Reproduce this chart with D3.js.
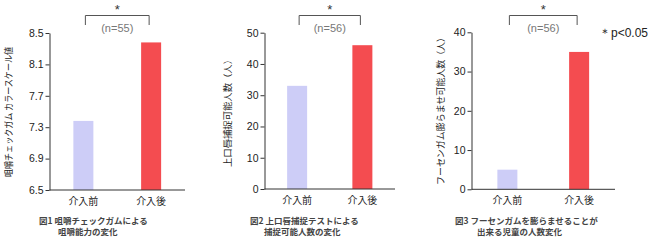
<!DOCTYPE html>
<html><head><meta charset="utf-8">
<script src="https://cdn.jsdelivr.net/npm/d3@7"></script>
<style>
html,body{margin:0;padding:0;background:#fff;}
svg{display:block;}
</style></head>
<body>
<svg id="c" width="650" height="241"></svg>
<script>
const categories = ["介入前", "介入後"];
const chewValues = [7.38, 8.38];
const lipValues = [33, 46];
const gumValues = [5, 35];
const chewTicks = [6.5, 6.9, 7.3, 7.7, 8.1, 8.5];
const lipTicks = [0, 10, 20, 30, 40, 50];
const gumTicks = [0, 10, 20, 30, 40];
const yTitles = ["咀嚼チェックガム カラースケール値", "上口唇捕捉可能人数（人）", "フーセンガム膨らませ可能人数（人）"];
const nLabels = ["(n=55)", "(n=56)", "(n=56)"];
const captions = [
  ["図1 咀嚼チェックガムによる", "咀嚼能力の変化"],
  ["図2 上口唇捕捉テストによる", "捕捉可能人数の変化"],
  ["図3 フーセンガムを膨らませることが", "出来る児童の人数変化"]
];
const barColors = ["#cdcdf7", "#f44c50"];

const panels = [
  {values: chewValues, ticks: chewTicks, domain: [6.5, 8.5], fmt: d3.format(".1f"),
   left: 49.5, right: 185, top: 33, bottom: 190, titleX: 8.5, titleY: 112, titleLen: 130,
   capX: [39, 58]},
  {values: lipValues, ticks: lipTicks, domain: [0, 50], fmt: d3.format("d"),
   left: 264.5, right: 395, top: 32.7, bottom: 189, titleX: 227, titleY: 111, titleLen: 112,
   capX: [250, 264]},
  {values: gumValues, ticks: gumTicks, domain: [0, 40], fmt: d3.format("d"),
   left: 471.5, right: 615, top: 32.3, bottom: 189.3, titleX: 440.5, titleY: 109, titleLen: 152,
   capX: [455, 477]}
];

const svg = d3.select("#c");
const sans = "Arial, 'Liberation Sans', sans-serif";
const cjk = "'Noto Sans CJK JP', sans-serif";

panels.forEach((p, i) => {
  const x = d3.scaleBand().domain(categories).range([p.left, p.right]).padding(0);
  const y = d3.scaleLinear().domain(p.domain).range([p.bottom, p.top]);
  const g = svg.append("g");

  const bw = 20;
  g.selectAll("rect").data(categories).join("rect")
    .attr("x", d => x(d) + x.bandwidth() / 2 - bw / 2)
    .attr("width", bw)
    .attr("y", (d, j) => y(p.values[j]))
    .attr("height", (d, j) => p.bottom - y(p.values[j]))
    .attr("fill", (d, j) => barColors[j]);

  const ya = g.append("g").attr("transform", `translate(${p.left},0)`)
    .call(d3.axisLeft(y).tickValues(p.ticks).tickFormat(p.fmt).tickSize(4).tickSizeOuter(0));
  ya.select(".domain").attr("stroke", "#333");
  ya.selectAll(".tick line").attr("stroke", "#333");
  ya.selectAll("text").attr("font-family", sans).attr("font-size", 10.5).attr("fill", "#222").attr("x", -6);

  const xa = g.append("g").attr("transform", `translate(0,${p.bottom})`)
    .call(d3.axisBottom(x).tickSize(0).tickPadding(8));
  xa.select(".domain").attr("stroke", "#333").attr("d", `M${p.left},0H${p.right}`);
  xa.selectAll("text").attr("font-family", cjk).attr("font-size", 10).attr("fill", "#222");

  g.append("text")
    .attr("transform", `translate(${p.titleX},${p.titleY}) rotate(-90)`)
    .attr("text-anchor", "middle").attr("dominant-baseline", "central")
    .attr("font-family", cjk).attr("font-size", 9).attr("fill", "#222")
    .attr("textLength", p.titleLen).attr("lengthAdjust", "spacingAndGlyphs")
    .text(yTitles[i]);

  const c0 = x(categories[0]) + x.bandwidth() / 2 + 2;
  const c1 = x(categories[1]) + x.bandwidth() / 2 - 2;
  g.append("path")
    .attr("d", `M${c0},25V15.5H${c1}V25`)
    .attr("fill", "none").attr("stroke", "#555").attr("stroke-width", 1);
  g.append("text").attr("x", (c0 + c1) / 2).attr("y", 14)
    .attr("text-anchor", "middle").attr("font-family", sans).attr("font-size", 13).attr("fill", "#333")
    .text("*");
  g.append("text").attr("x", (c0 + c1) / 2).attr("y", 32)
    .attr("text-anchor", "middle").attr("font-family", sans).attr("font-size", 11).attr("fill", "#777")
    .text(nLabels[i]);

  captions[i].forEach((line, k) => {
    g.append("text").attr("x", p.capX[k]).attr("y", 224 + k * 10.5)
      .attr("font-family", cjk).attr("font-size", 8.5).attr("font-weight", "bold").attr("fill", "#444")
      .text(line);
  });
});

svg.append("text").attr("x", 599).attr("y", 37)
  .attr("font-family", sans).attr("font-size", 12).attr("fill", "#222")
  .text("＊p<0.05");
</script>
</body></html>
